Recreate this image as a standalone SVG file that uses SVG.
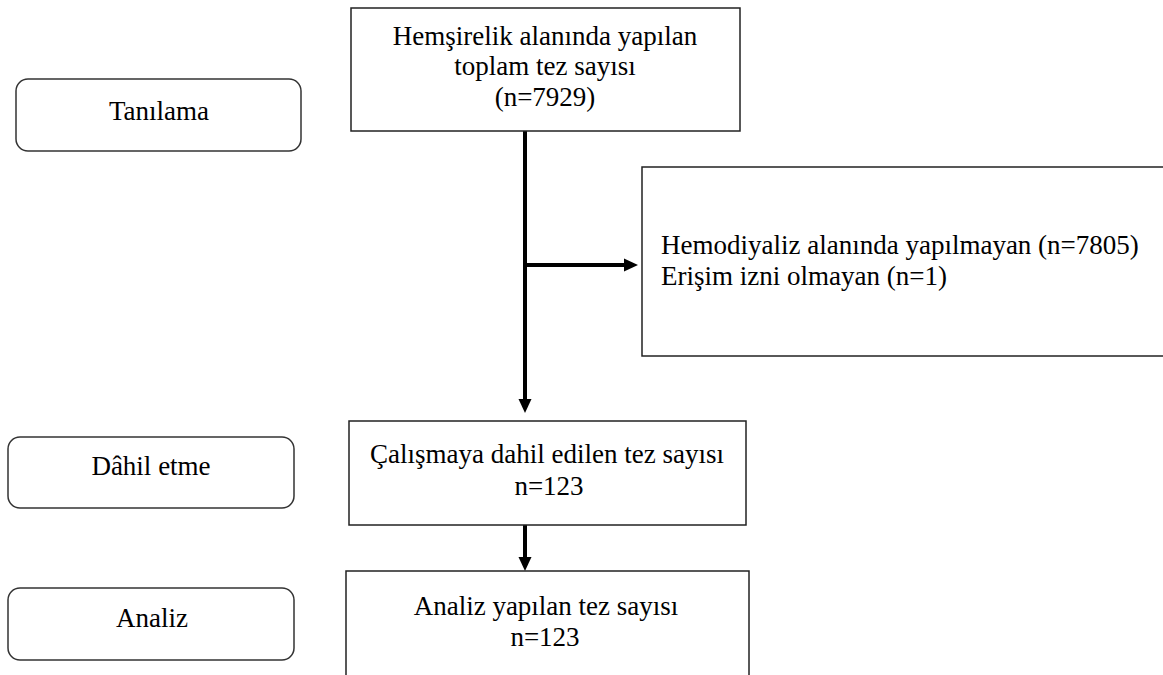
<svg xmlns="http://www.w3.org/2000/svg" width="1163" height="675" viewBox="0 0 1163 675">
<rect width="1163" height="675" fill="#fff"/>
<g id="connectors">
<line x1="525" y1="131" x2="525" y2="400" stroke="#000" stroke-width="4"/>
<path d="M518.5,399 L531.5,399 L525,413 Z" fill="#000"/>
<line x1="525" y1="265" x2="625" y2="265" stroke="#000" stroke-width="4"/>
<path d="M624,258.5 L624,271.5 L638,265 Z" fill="#000"/>
<line x1="525" y1="525" x2="525" y2="558" stroke="#000" stroke-width="4"/>
<path d="M518.5,557 L531.5,557 L525,571 Z" fill="#000"/>
</g>
<g id="tanilama">
<rect x="16" y="79" width="285" height="72" rx="12" fill="#fff" stroke="#333" stroke-width="1.5"/>
<text x="159" y="120" text-anchor="middle" style="font-family:'Liberation Serif','Times New Roman',serif;font-size:27px">Tanılama</text>
</g>
<g id="toplam">
<rect x="351" y="8" width="389" height="123" fill="#fff" stroke="#222" stroke-width="1.5"/>
<text x="545" y="45" text-anchor="middle" style="font-family:'Liberation Serif','Times New Roman',serif;font-size:27px">Hemşirelik alanında yapılan</text>
<text x="545" y="75" text-anchor="middle" style="font-family:'Liberation Serif','Times New Roman',serif;font-size:27px">toplam tez sayısı</text>
<text x="545" y="106" text-anchor="middle" style="font-family:'Liberation Serif','Times New Roman',serif;font-size:27px">(n=7929)</text>
</g>
<g id="haric">
<rect x="642" y="167" width="530" height="189" fill="#fff" stroke="#222" stroke-width="1.5"/>
<text x="661" y="254" style="font-family:'Liberation Serif','Times New Roman',serif;font-size:27px">Hemodiyaliz alanında yapılmayan (n=7805)</text>
<text x="661" y="285" style="font-family:'Liberation Serif','Times New Roman',serif;font-size:27px">Erişim izni olmayan (n=1)</text>
</g>
<g id="dahil-etme">
<rect x="8" y="437" width="286" height="71" rx="12" fill="#fff" stroke="#333" stroke-width="1.5"/>
<text x="151" y="475" text-anchor="middle" style="font-family:'Liberation Serif','Times New Roman',serif;font-size:27px">Dâhil etme</text>
</g>
<g id="dahil">
<rect x="349" y="421" width="397" height="104" fill="#fff" stroke="#222" stroke-width="1.5"/>
<text x="547" y="463" text-anchor="middle" style="font-family:'Liberation Serif','Times New Roman',serif;font-size:27px">Çalışmaya dahil edilen tez sayısı</text>
<text x="549" y="495" text-anchor="middle" style="font-family:'Liberation Serif','Times New Roman',serif;font-size:27px">n=123</text>
</g>
<g id="analiz">
<rect x="8" y="588" width="286" height="72" rx="12" fill="#fff" stroke="#333" stroke-width="1.5"/>
<text x="152" y="627" text-anchor="middle" style="font-family:'Liberation Serif','Times New Roman',serif;font-size:27px">Analiz</text>
</g>
<g id="analiz-yapilan">
<rect x="346" y="571" width="403" height="120" fill="#fff" stroke="#222" stroke-width="1.5"/>
<text x="546" y="615" text-anchor="middle" style="font-family:'Liberation Serif','Times New Roman',serif;font-size:27px">Analiz yapılan tez sayısı</text>
<text x="545" y="646" text-anchor="middle" style="font-family:'Liberation Serif','Times New Roman',serif;font-size:27px">n=123</text>
</g>
</svg>
